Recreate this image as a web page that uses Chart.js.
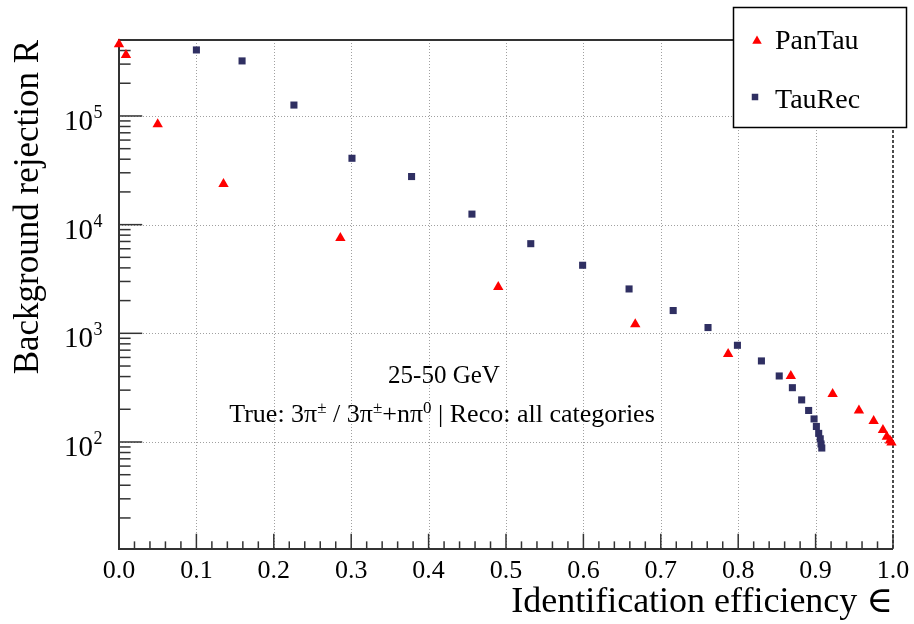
<!DOCTYPE html>
<html>
<head>
<meta charset="utf-8">
<script src="https://cdn.jsdelivr.net/npm/chart.js@4/dist/chart.umd.min.js"></script>
<style>
  html, body { margin: 0; padding: 0; background: #ffffff; }
  #wrap { width: 914px; height: 624px; }
</style>
</head>
<body>
<div id="wrap"><canvas id="c" width="914" height="624"></canvas></div>
<script>
// PanTau: efficiency vs background rejection
const panTauEff = [0.000, 0.009, 0.050, 0.135, 0.286, 0.490, 0.667, 0.787, 0.868, 0.922, 0.956, 0.975, 0.987, 0.992, 0.996, 0.998];
const panTauRej = [4.57e5, 3.64e5, 8.4e4, 2.37e4, 7.55e3, 2.67e3, 1.21e3, 646, 405, 277, 195, 156, 129, 112, 103, 99];

// TauRec: efficiency vs background rejection
const tauRecEff = [0.100, 0.159, 0.226, 0.301, 0.378, 0.456, 0.532, 0.599, 0.659, 0.716, 0.761, 0.799, 0.830, 0.853, 0.870, 0.882, 0.891, 0.898, 0.901, 0.904, 0.906, 0.907, 0.908];
const tauRecRej = [4.05e5, 3.21e5, 1.26e5, 4.08e4, 2.77e4, 1.25e4, 6.68e3, 4.23e3, 2.56e3, 1.62e3, 1.13e3, 776, 557, 405, 316, 244, 195, 163, 139, 120, 107, 96, 88];

// Axis ticks
const xTickValues = [0.0, 0.1, 0.2, 0.3, 0.4, 0.5, 0.6, 0.7, 0.8, 0.9, 1.0];
const xTickLabels = ['0.0', '0.1', '0.2', '0.3', '0.4', '0.5', '0.6', '0.7', '0.8', '0.9', '1.0'];
const yDecadeExponents = [2, 3, 4, 5];
const yRange = [10.36, 5e5];

const seriesNames = ['PanTau', 'TauRec'];
const infoLines = ['25-50 GeV'];

const SERIF = '"Liberation Serif", "DejaVu Serif", serif';
const RED = '#ff0000';
const NAVY = '#2f2f62';

function toPoints(xs, ys) { return xs.map((x, i) => ({ x: x, y: ys[i] })); }

function seg(ctx, x1, y1, x2, y2) {
  ctx.beginPath(); ctx.moveTo(x1, y1); ctx.lineTo(x2, y2); ctx.stroke();
}

function drawTriangle(ctx, x, y, r, color) {
  ctx.fillStyle = color;
  ctx.beginPath();
  ctx.moveTo(x, y - r);
  ctx.lineTo(x + r * 0.866, y + r * 0.5);
  ctx.lineTo(x - r * 0.866, y + r * 0.5);
  ctx.closePath();
  ctx.fill();
}

function drawSquare(ctx, x, y, s, color) {
  ctx.fillStyle = color;
  ctx.fillRect(x - s / 2, y - s / 2, s, s);
}

// Draw a run of text pieces, some of them raised as superscripts, centred at cx
function drawRich(ctx, pieces, cx, baseline, size, supSize, raise) {
  let total = 0;
  const widths = pieces.map(p => {
    ctx.font = (p.sup ? supSize : size) + 'px ' + SERIF;
    const w = ctx.measureText(p.t).width;
    total += w;
    return w;
  });
  let x = cx - total / 2;
  ctx.textAlign = 'left';
  ctx.textBaseline = 'alphabetic';
  pieces.forEach((p, i) => {
    ctx.font = (p.sup ? supSize : size) + 'px ' + SERIF;
    ctx.fillText(p.t, x, p.sup ? baseline - raise : baseline);
    x += widths[i];
  });
}

const rootFrame = {
  id: 'rootFrame',
  beforeDatasetsDraw(chart) {
    const { ctx, chartArea: a, scales: { x, y } } = chart;
    ctx.save();

    // dotted grid at major ticks
    ctx.strokeStyle = '#a0a0a0';
    ctx.lineWidth = 1;
    ctx.setLineDash([1, 2]);
    xTickValues.forEach(v => {
      if (v <= 0 || v >= 1) return;
      const px = Math.round(x.getPixelForValue(v)) + 0.5;
      seg(ctx, px, a.top, px, a.bottom);
    });
    yDecadeExponents.forEach(e => {
      const py = Math.round(y.getPixelForValue(Math.pow(10, e))) + 0.5;
      seg(ctx, a.left, py, a.right, py);
    });

    // right edge
    ctx.strokeStyle = '#111111';
    ctx.lineWidth = 1.5;
    ctx.setLineDash([3, 2]);
    seg(ctx, a.right, a.top, a.right, a.bottom);

    // frame lines
    ctx.setLineDash([]);
    ctx.strokeStyle = '#333333';
    ctx.lineWidth = 2;
    seg(ctx, a.left, a.top, a.right, a.top);
    seg(ctx, a.left, a.top - 1, a.left, a.bottom + 1);
    seg(ctx, a.left - 1, a.bottom, a.right, a.bottom);

    // inward ticks on the x axis: majors every 0.1, minors every 0.02
    const h = a.bottom - a.top, w = a.right - a.left;
    const xMaj = 0.03 * h, xMin = xMaj / 2;
    ctx.lineWidth = 1.5;
    for (let i = 0; i <= 50; i++) {
      const v = i / 50;
      const px = x.getPixelForValue(v);
      const len = (i % 5 === 0) ? xMaj : xMin;
      seg(ctx, px, a.bottom, px, a.bottom - len);
    }

    // inward ticks on the log y axis
    const yMaj = 0.03 * w, yMin = yMaj / 2;
    const lo = Math.floor(Math.log10(yRange[0]));
    const hi = Math.ceil(Math.log10(yRange[1]));
    for (let e = lo; e <= hi; e++) {
      for (let m = 1; m <= 9; m++) {
        const v = m * Math.pow(10, e);
        if (v < yRange[0] || v > yRange[1]) continue;
        const py = y.getPixelForValue(v);
        seg(ctx, a.left, py, a.left + (m === 1 ? yMaj : yMin), py);
      }
    }
    ctx.restore();
  },
  afterDatasetsDraw(chart) {
    const { ctx, chartArea: a, scales: { x, y } } = chart;
    ctx.save();
    ctx.fillStyle = '#000000';

    // x tick labels
    ctx.font = '26px ' + SERIF;
    ctx.textAlign = 'center';
    ctx.textBaseline = 'alphabetic';
    xTickValues.forEach((v, i) => {
      ctx.fillText(xTickLabels[i], x.getPixelForValue(v), a.bottom + 29);
    });

    // y tick labels as 10 with a raised exponent
    yDecadeExponents.forEach(e => {
      const py = y.getPixelForValue(Math.pow(10, e));
      ctx.font = '29px ' + SERIF;
      ctx.textAlign = 'right';
      ctx.fillText('10', 93, py + 14);
      ctx.font = '18px ' + SERIF;
      ctx.textAlign = 'left';
      ctx.fillText(String(e), 93.5, py + 2);
    });

    // axis titles
    ctx.font = '36px ' + SERIF;
    ctx.textAlign = 'right';
    ctx.fillText('Identification efficiency \u2208', a.right, 612);
    ctx.save();
    ctx.translate(38, a.top);
    ctx.rotate(-Math.PI / 2);
    ctx.font = '35px ' + SERIF;
    ctx.textAlign = 'right';
    ctx.fillText('Background rejection R', 0, 0);
    ctx.restore();

    // selection text
    ctx.font = '25px ' + SERIF;
    ctx.textAlign = 'center';
    ctx.fillText(infoLines[0], 444, 383);
    drawRich(ctx, [
      { t: 'True: 3\u03c0' }, { t: '\u00b1', sup: true },
      { t: ' / 3\u03c0' }, { t: '\u00b1', sup: true },
      { t: '+n\u03c0' }, { t: '0', sup: true },
      { t: ' | Reco: all categories' }
    ], 442, 422, 26, 17, 9);

    // legend box
    ctx.fillStyle = '#ffffff';
    ctx.fillRect(733, 7, 174, 121);
    ctx.strokeStyle = '#000000';
    ctx.lineWidth = 1.5;
    ctx.strokeRect(733.5, 7.5, 173, 120);
    drawTriangle(ctx, 757, 41, 5.5, RED);
    drawSquare(ctx, 755, 97, 6.5, NAVY);
    ctx.fillStyle = '#000000';
    ctx.font = '28px ' + SERIF;
    ctx.textAlign = 'left';
    ctx.fillText(seriesNames[0], 775, 49);
    ctx.fillText(seriesNames[1], 775, 108);
    ctx.restore();
  }
};

new Chart(document.getElementById('c'), {
  type: 'scatter',
  data: {
    datasets: [
      {
        label: seriesNames[0],
        data: toPoints(panTauEff, panTauRej),
        pointStyle: 'triangle',
        pointRadius: 6,
        backgroundColor: RED,
        borderColor: RED,
        borderWidth: 0,
        clip: false
      },
      {
        label: seriesNames[1],
        data: toPoints(tauRecEff, tauRecRej),
        pointStyle: 'rect',
        pointRadius: 5,
        backgroundColor: NAVY,
        borderColor: NAVY,
        borderWidth: 0,
        clip: false
      }
    ]
  },
  options: {
    responsive: false,
    devicePixelRatio: 1,
    animation: false,
    layout: { padding: { left: 119, right: 21, top: 40, bottom: 75 } },
    plugins: { legend: { display: false }, tooltip: { enabled: false } },
    scales: {
      x: { type: 'linear', min: 0, max: 1, display: false },
      y: { type: 'logarithmic', min: yRange[0], max: yRange[1], display: false }
    }
  },
  plugins: [rootFrame]
});
</script>
</body>
</html>
